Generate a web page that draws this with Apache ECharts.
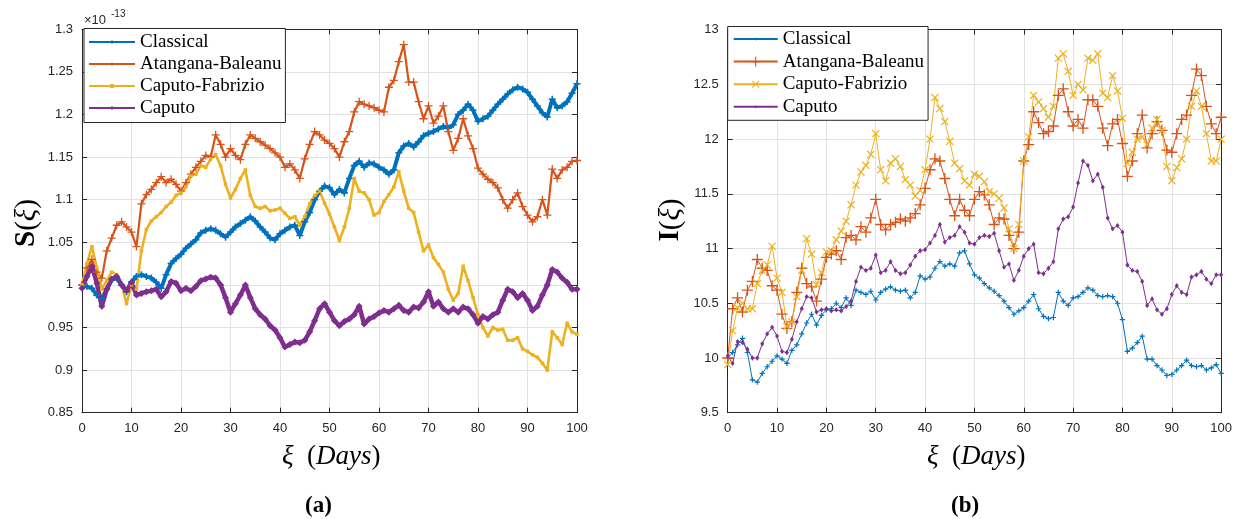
<!DOCTYPE html>
<html>
<head>
<meta charset="utf-8">
<script src="https://cdn.jsdelivr.net/npm/echarts@6/dist/echarts.min.js"></script>
<style>
  html, body { margin: 0; padding: 0; background: #fff; }
  #chart { width: 1235px; height: 519px; }
</style>
</head>
<body>
<div id="chart"></div>
<script>
// Time grid (days)
const days = [0,1,2,3,4,5,6,7,8,9,10,11,12,13,14,15,16,17,18,19,20,21,22,23,24,25,26,27,28,29,30,
  31,32,33,34,35,36,37,38,39,40,41,42,43,44,45,46,47,48,49,50,51,52,53,54,55,56,57,58,59,60,
  61,62,63,64,65,66,67,68,69,70,71,72,73,74,75,76,77,78,79,80,81,82,83,84,85,86,87,88,89,90,
  91,92,93,94,95,96,97,98,99,100];

// Panel (a): S(xi), in units of 1e-13
const sClassical = [1.000,0.998,0.996,0.988,0.984,0.995,1.006,1.008,1.000,0.992,
  1.003,1.010,1.012,1.010,1.008,1.003,0.996,1.012,1.025,1.031,
  1.036,1.043,1.048,1.053,1.061,1.064,1.066,1.064,1.060,1.056,
  1.062,1.068,1.072,1.076,1.080,1.075,1.068,1.062,1.055,1.053,
  1.060,1.064,1.068,1.070,1.058,1.074,1.085,1.100,1.110,1.116,
  1.114,1.106,1.112,1.108,1.125,1.140,1.145,1.138,1.143,1.142,
  1.138,1.135,1.130,1.135,1.155,1.163,1.166,1.162,1.168,1.175,
  1.178,1.180,1.183,1.186,1.184,1.188,1.200,1.205,1.212,1.205,
  1.192,1.195,1.198,1.205,1.212,1.218,1.224,1.229,1.232,1.230,
  1.226,1.218,1.210,1.202,1.197,1.218,1.208,1.210,1.215,1.225,1.236];
const sAtangana = [1.000,1.020,1.030,1.015,1.008,1.040,1.055,1.070,1.074,1.068,
  1.062,1.045,1.095,1.106,1.112,1.120,1.127,1.120,1.124,1.118,
  1.110,1.120,1.130,1.138,1.145,1.152,1.150,1.176,1.165,1.150,
  1.160,1.152,1.147,1.165,1.176,1.172,1.168,1.164,1.160,1.155,
  1.150,1.138,1.142,1.135,1.125,1.148,1.165,1.180,1.176,1.170,
  1.166,1.160,1.150,1.168,1.180,1.203,1.215,1.212,1.210,1.208,
  1.205,1.203,1.232,1.240,1.262,1.282,1.238,1.238,1.215,1.195,
  1.210,1.190,1.198,1.210,1.180,1.158,1.172,1.195,1.175,1.160,
  1.137,1.130,1.124,1.120,1.114,1.100,1.090,1.100,1.108,1.092,
  1.082,1.074,1.080,1.100,1.082,1.136,1.125,1.135,1.138,1.145,1.146];
const sFabrizio = [1.000,1.025,1.045,1.020,0.995,1.005,1.015,1.012,1.000,0.978,
  1.000,0.995,1.040,1.065,1.075,1.080,1.085,1.092,1.097,1.105,
  1.108,1.115,1.128,1.130,1.140,1.138,1.148,1.153,1.140,1.118,
  1.102,1.112,1.125,1.135,1.105,1.092,1.090,1.092,1.087,1.088,
  1.090,1.084,1.078,1.080,1.070,1.080,1.095,1.105,1.110,1.096,
  1.083,1.068,1.052,1.068,1.090,1.125,1.110,1.108,1.100,1.082,
  1.085,1.098,1.106,1.115,1.133,1.110,1.090,1.085,1.062,1.040,
  1.047,1.032,1.024,1.015,0.995,0.982,0.990,1.022,1.005,0.985,
  0.965,0.950,0.940,0.950,0.947,0.948,0.935,0.935,0.938,0.925,
  0.922,0.918,0.915,0.908,0.900,0.945,0.938,0.930,0.955,0.945,0.942];
const sCaputo = [0.996,1.010,1.022,1.002,0.975,0.995,1.007,1.010,1.000,0.993,
  1.003,0.988,0.990,0.992,0.993,0.995,0.986,0.992,1.004,1.002,
  0.993,0.996,0.993,0.998,1.005,1.007,1.009,1.008,1.000,0.985,
  0.968,0.978,0.988,1.000,0.985,0.972,0.965,0.960,0.952,0.947,
  0.938,0.927,0.930,0.933,0.932,0.935,0.945,0.958,0.972,0.978,
  0.968,0.958,0.952,0.957,0.960,0.965,0.975,0.954,0.960,0.963,
  0.967,0.970,0.968,0.972,0.976,0.970,0.968,0.974,0.973,0.980,
  0.992,0.975,0.980,0.972,0.968,0.972,0.968,0.974,0.972,0.965,
  0.955,0.963,0.960,0.965,0.968,0.982,0.995,0.992,0.985,0.990,
  0.982,0.970,0.975,0.988,1.000,1.018,1.015,1.008,1.003,0.995,0.995];

// Panel (b): I(xi)
const iClassical = [10.00,10.05,10.12,10.18,10.05,9.80,9.78,9.86,9.92,9.97,
  10.02,9.99,9.95,10.07,10.12,10.22,10.32,10.40,10.30,10.39,
  10.44,10.45,10.50,10.46,10.55,10.48,10.62,10.60,10.58,10.61,
  10.53,10.60,10.63,10.65,10.62,10.61,10.62,10.55,10.60,10.75,
  10.72,10.74,10.82,10.88,10.84,10.86,10.84,10.96,10.98,10.86,
  10.76,10.73,10.68,10.64,10.61,10.57,10.52,10.46,10.40,10.43,
  10.46,10.52,10.58,10.45,10.38,10.36,10.37,10.60,10.52,10.48,
  10.55,10.56,10.60,10.64,10.62,10.57,10.56,10.57,10.56,10.50,
  10.35,10.06,10.09,10.14,10.20,9.99,9.99,9.93,9.89,9.84,
  9.85,9.89,9.93,9.98,9.93,9.92,9.93,9.89,9.91,9.94,9.86];
const iAtangana = [10.00,10.45,10.55,10.42,10.62,10.70,10.90,10.82,10.80,10.66,
  10.62,10.40,10.27,10.33,10.60,10.82,10.68,10.65,10.52,10.72,
  10.92,10.95,10.98,10.90,11.10,11.12,11.08,11.20,11.15,11.28,
  11.45,11.22,11.17,11.22,11.24,11.27,11.25,11.28,11.32,11.40,
  11.55,11.72,11.82,11.80,11.64,11.45,11.30,11.45,11.35,11.30,
  11.45,11.52,11.49,11.40,11.22,11.28,11.27,11.12,11.00,11.15,
  11.80,11.95,12.25,12.15,12.05,12.07,12.12,12.40,12.46,12.25,
  12.12,12.18,12.10,12.36,12.36,12.30,12.10,11.94,12.14,12.18,
  11.96,11.66,11.80,12.05,12.22,11.92,12.05,12.16,12.08,11.90,
  11.88,12.05,12.18,12.22,12.40,12.64,12.58,12.30,12.14,12.05,12.20];
const iFabrizio = [9.94,10.25,10.46,10.50,10.45,10.45,10.68,10.80,10.85,11.02,
  10.73,10.60,10.29,10.33,10.56,10.80,11.09,10.95,10.67,10.78,
  10.97,10.98,11.08,11.16,11.25,11.40,11.58,11.70,11.76,11.86,
  12.05,11.72,11.62,11.78,11.82,11.75,11.63,11.58,11.48,11.53,
  11.72,12.00,12.38,12.28,12.16,11.98,11.78,11.73,11.62,11.58,
  11.68,11.66,11.61,11.52,11.50,11.46,11.37,11.18,11.00,11.22,
  11.80,12.02,12.40,12.34,12.28,12.20,12.30,12.74,12.78,12.62,
  12.40,12.50,12.45,12.74,12.72,12.78,12.42,12.38,12.58,12.44,
  12.19,11.78,11.88,12.00,12.02,11.95,12.10,12.18,12.08,11.75,
  11.62,11.74,11.82,12.00,12.30,12.44,12.30,12.05,11.80,11.80,12.00];
const iCaputo = [10.02,9.95,10.15,10.14,10.08,10.00,10.00,10.13,10.22,10.28,
  10.20,10.06,10.05,10.17,10.33,10.45,10.56,10.55,10.42,10.44,
  10.45,10.43,10.44,10.43,10.47,10.52,10.70,10.83,10.80,10.82,
  10.94,10.78,10.80,10.88,10.80,10.77,10.78,10.85,10.93,10.98,
  10.99,11.05,11.12,11.22,11.06,11.10,11.12,11.20,11.15,11.05,
  11.04,11.10,11.12,11.11,11.14,10.98,10.83,10.86,10.71,10.80,
  10.93,11.00,11.04,10.78,10.77,10.82,10.88,11.18,11.27,11.29,
  11.38,11.60,11.80,11.76,11.62,11.68,11.56,11.28,11.18,11.21,
  11.15,10.85,10.80,10.79,10.70,10.48,10.54,10.44,10.40,10.45,
  10.58,10.66,10.60,10.58,10.74,10.76,10.79,10.72,10.68,10.76,10.76];

const seriesNames = ['Classical', 'Atangana-Baleanu', 'Caputo-Fabrizio', 'Caputo'];
const palette = ['#0072BD', '#D95319', '#EDB120', '#7E2F8E'];

// marker shapes
const PLUS = 'path://M-1,-0.12L-0.12,-0.12L-0.12,-1L0.12,-1L0.12,-0.12L1,-0.12L1,0.12L0.12,0.12L0.12,1L-0.12,1L-0.12,0.12L-1,0.12Z';
const PLUS_MID = 'path://M-1,-0.16L-0.16,-0.16L-0.16,-1L0.16,-1L0.16,-0.16L1,-0.16L1,0.16L0.16,0.16L0.16,1L-0.16,1L-0.16,0.16L-1,0.16Z';
const PLUS_BOLD = 'path://M-1,-0.22L-0.22,-0.22L-0.22,-1L0.22,-1L0.22,-0.22L1,-0.22L1,0.22L0.22,0.22L0.22,1L-0.22,1L-0.22,0.22L-1,0.22Z';
// small markers placed inside a wider empty box so legend swatches stay small
const PLUS_PAD = 'path://M-3,-3M3,3M-1,-0.22L-0.22,-0.22L-0.22,-1L0.22,-1L0.22,-0.22L1,-0.22L1,0.22L0.22,0.22L0.22,1L-0.22,1L-0.22,0.22L-1,0.22Z';
const DIAMOND_PAD = 'path://M-3,-3M3,3M0,-1L0.75,0L0,1L-0.75,0Z';

const AXIS_COLOR = '#262626';
const GRID_COLOR = '#e2e2e2';
const SANS = '"Liberation Sans", Arial, Helvetica, sans-serif';
const SERIF = '"Liberation Serif", "Times New Roman", serif';

const pairs = ys => days.map((d, i) => [d, ys[i]]);

const grids = [
  { left: 82, top: 29.3, width: 495, height: 383.4 },
  { left: 727.7, top: 29.7, width: 494.6, height: 383 }
];

function xAxisPair(gridIndex) {
  const common = {
    type: 'value', gridIndex: gridIndex, min: 0, max: 100, interval: 10,
    axisLine: { show: true, onZero: false, lineStyle: { color: AXIS_COLOR, width: 1 } },
    axisTick: { show: true, inside: true, length: 5, lineStyle: { color: AXIS_COLOR } }
  };
  return [
    Object.assign({}, common, {
      position: 'bottom',
      axisLabel: { color: AXIS_COLOR, fontFamily: SANS, fontSize: 13, margin: 9 },
      splitLine: { show: true, lineStyle: { color: GRID_COLOR, width: 1 } }
    }),
    Object.assign({}, common, {
      position: 'top',
      axisLabel: { show: false },
      splitLine: { show: false }
    })
  ];
}

function yAxisPair(gridIndex, min, max, interval, digits) {
  const common = {
    type: 'value', gridIndex: gridIndex, min: min, max: max, interval: interval,
    axisLine: { show: true, onZero: false, lineStyle: { color: AXIS_COLOR, width: 1 } },
    axisTick: { show: true, inside: true, length: 5, lineStyle: { color: AXIS_COLOR } }
  };
  return [
    Object.assign({}, common, {
      position: 'left',
      axisLabel: {
        color: AXIS_COLOR, fontFamily: SANS, fontSize: 13, margin: 9,
        formatter: function (v) { return String(+v.toFixed(digits)); }
      },
      splitLine: { show: true, lineStyle: { color: GRID_COLOR, width: 1 } }
    }),
    Object.assign({}, common, {
      position: 'right',
      axisLabel: { show: false },
      splitLine: { show: false }
    })
  ];
}

const xA = xAxisPair(0), xB = xAxisPair(1);
const yA = yAxisPair(0, 0.85, 1.3, 0.05, 2);
const yB = yAxisPair(1, 9.5, 13, 0.5, 1);

// panel (a): dense noisy paths drawn as heavy bands
const styleA = [
  { symbol: PLUS_BOLD, symbolSize: 7, width: 4 },
  { symbol: PLUS_MID, symbolSize: 8, width: 2.2 },
  { symbol: 'rect', symbolSize: 3.5, width: 2.6 },
  { symbol: 'diamond', symbolSize: 7, width: 4.5 }
];
// panel (b)
const styleB = [
  { symbol: PLUS_PAD, symbolSize: 16, width: 1 },
  { symbol: PLUS, symbolSize: 11, width: 1 },
  { symbol: PLUS, symbolSize: 10, width: 1, rotate: 45 },
  { symbol: DIAMOND_PAD, symbolSize: 16, width: 1 }
];

const dataA = [sClassical, sAtangana, sFabrizio, sCaputo];
const dataB = [iClassical, iAtangana, iFabrizio, iCaputo];

function makeSeries(name, values, st, color, xi, yi) {
  return {
    type: 'line', name: name, xAxisIndex: xi, yAxisIndex: yi,
    data: pairs(values),
    symbol: st.symbol, symbolSize: st.symbolSize, symbolRotate: st.rotate || 0,
    showSymbol: true, showAllSymbol: true,
    lineStyle: { color: color, width: st.width },
    itemStyle: { color: color },
    silent: true
  };
}

const series = [];
seriesNames.forEach(function (n, k) { series.push(makeSeries(n, dataA[k], styleA[k], palette[k], 0, 0)); });
seriesNames.forEach(function (n, k) { series.push(makeSeries(n + '|I', dataB[k], styleB[k], palette[k], 2, 2)); });

const legendCommon = {
  orient: 'vertical', selectedMode: false,
  borderColor: AXIS_COLOR, borderWidth: 1, borderRadius: 0, backgroundColor: '#fff',
  textStyle: { fontFamily: SERIF, fontSize: 19, color: '#000' }
};

const richLabel = {
  b: { fontFamily: SERIF, fontSize: 29, fontWeight: 'bold', fill: '#000' },
  n: { fontFamily: SERIF, fontSize: 29, fill: '#000' },
  i: { fontFamily: SERIF, fontSize: 29, fontStyle: 'italic', fill: '#000' }
};
const richTitle = {
  n: { fontFamily: SERIF, fontSize: 27, fill: '#000' },
  i: { fontFamily: SERIF, fontSize: 27, fontStyle: 'italic', fill: '#000' }
};

const option = {
  animation: false,
  backgroundColor: '#fff',
  grid: grids,
  xAxis: [xA[0], xA[1], xB[0], xB[1]],
  yAxis: [yA[0], yA[1], yB[0], yB[1]],
  legend: [
    Object.assign({}, legendCommon, {
      data: seriesNames, left: 84, top: 28.5,
      itemWidth: 46, itemHeight: 5, itemGap: 3, padding: [4, 4, 5, 4],
      lineStyle: { width: 2 }
    }),
    Object.assign({}, legendCommon, {
      data: seriesNames.map(function (n) { return n + '|I'; }), left: 727.7, top: 26.5,
      itemWidth: 44, itemHeight: 12, itemGap: 3.6, padding: [3, 4, 4, 5],
      formatter: function (n) { return n.split('|')[0]; }
    })
  ],
  series: series,
  graphic: [
    { type: 'text', x: 84, y: 14, style: { text: '\u00D710', font: '13px ' + SANS, fill: AXIS_COLOR } },
    { type: 'text', x: 111, y: 9, style: { text: '-13', font: '10px ' + SANS, fill: AXIS_COLOR } },
    { type: 'text', x: 27, y: 223, rotation: Math.PI / 2,
      style: { text: '{b|S}{n|(}{i|\u03BE}{n|)}', rich: richLabel, align: 'center', verticalAlign: 'middle' } },
    { type: 'text', x: 671, y: 220, rotation: Math.PI / 2,
      style: { text: '{b|I}{n|(}{i|\u03BE}{n|)}', rich: richLabel, align: 'center', verticalAlign: 'middle' } },
    { type: 'text', x: 282, y: 443,
      style: { text: '{i|\u03BE}{n|  (}{i|Days}{n|)}', rich: richTitle } },
    { type: 'text', x: 927, y: 443,
      style: { text: '{i|\u03BE}{n|  (}{i|Days}{n|)}', rich: richTitle } },
    { type: 'text', x: 305, y: 495, style: { text: '(a)', font: 'bold 23px ' + SERIF, fill: '#000' } },
    { type: 'text', x: 951, y: 495, style: { text: '(b)', font: 'bold 23px ' + SERIF, fill: '#000' } }
  ]
};

const chart = echarts.init(document.getElementById('chart'), null, { renderer: 'canvas' });
chart.setOption(option);
</script>
</body>
</html>
